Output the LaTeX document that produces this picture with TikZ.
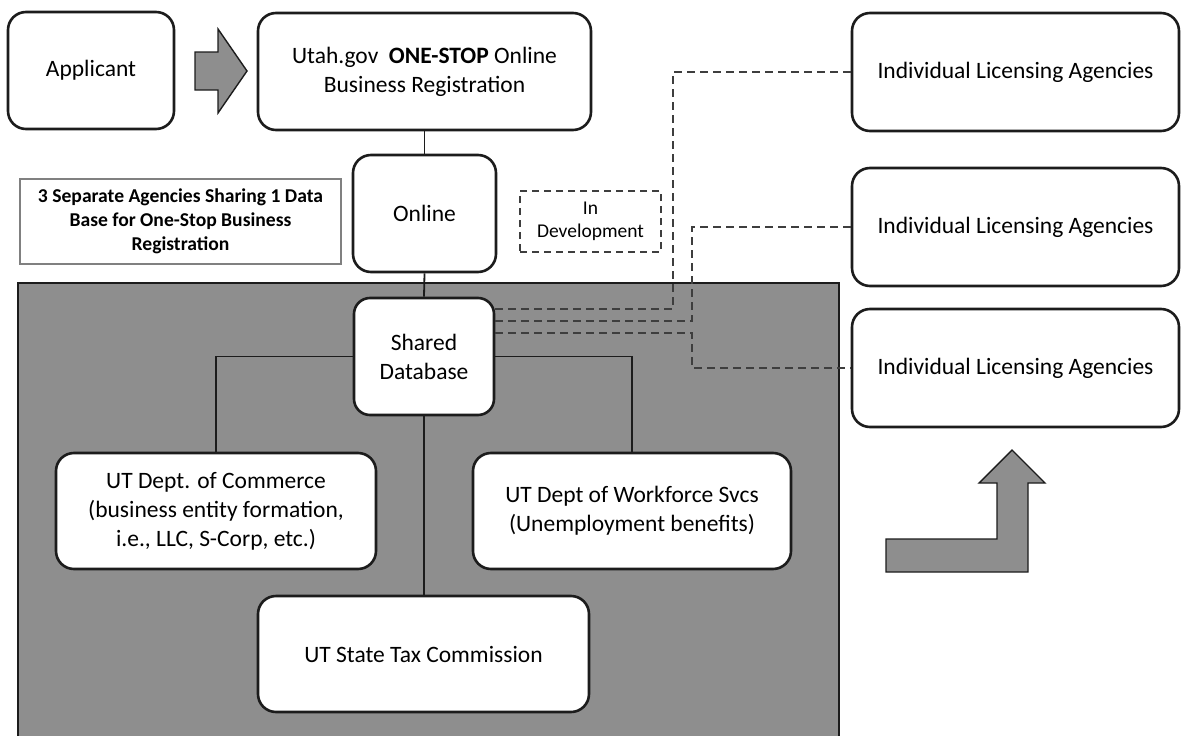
\documentclass[tikz,border=0pt]{standalone}
\usepackage{fontspec}
\setmainfont{Carlito}
\definecolor{shade}{RGB}{142,142,142}
\definecolor{frame}{RGB}{28,28,28}
\begin{document}
\begin{tikzpicture}[x=1pt,y=-1pt,
    box/.style={draw=frame,line width=2.6pt,rounded corners=18pt,fill=white,
      align=center,inner sep=0pt,font=\fontsize{23.5}{29}\selectfont},
    note/.style={draw=gray,line width=1.4pt,fill=white,align=center,inner sep=0pt,
      font=\bfseries\fontsize{19.6}{24}\selectfont},
    devbox/.style={draw=frame!85,line width=1.8pt,dash pattern=on 7pt off 5pt,
      align=center,inner sep=0pt,font=\fontsize{19.5}{23}\selectfont},
    link/.style={draw=frame,line width=1.8pt},
    dline/.style={draw=frame!85,line width=2pt,dash pattern=on 8pt off 5pt},
    blockarrow/.style={draw=frame,line width=1.4pt,fill=shade}]
  \useasboundingbox (0,0) rectangle (1181,736);
  % shaded area of the three agencies
  \draw[fill=shade,draw=frame,line width=2pt] (18,283) rectangle (839,745);

  % top row
  \node[box,minimum width=166pt,minimum height=117pt] (app) at (91,70.5) {Applicant};
  \node[box,minimum width=333pt,minimum height=117pt] (utah) at (424.5,71.5)
    {Utah.gov\ \ \textbf{ONE-STOP} Online\\Business Registration};
  \draw[blockarrow] (195,52) -- (218,52) -- (218,29) -- (247,71) -- (218,113)
    -- (218,90) -- (195,90) -- cycle;

  % middle row
  \node[box,minimum width=143pt,minimum height=117pt] (online) at (424.5,213.5) {Online};
  \node[note,minimum width=321pt,minimum height=85pt] (info) at (180.5,221.5)
    {3 Separate Agencies Sharing 1 Data\\Base for One-Stop Business\\Registration};
  \node[devbox,minimum width=141pt,minimum height=61pt] (indev) at (590.5,221.5)
    {In\\Development};

  % shared database and agencies
  \node[box,rounded corners=16pt,minimum width=140pt,minimum height=117pt] (shared) at (424,356.5)
    {Shared\\Database};
  \node[box,minimum width=320pt,minimum height=116pt] (comm) at (216,511)
    {UT Dept. of Commerce\\(business entity formation,\\i.e., LLC, S-Corp, etc.)};
  \node[box,minimum width=318pt,minimum height=116pt] (work) at (632,511)
    {UT Dept of Workforce Svcs\\(Unemployment benefits)};
  \node[box,minimum width=331pt,minimum height=116pt] (tax) at (423.5,654)
    {UT State Tax Commission};

  % licensing agencies
  \node[box,minimum width=327pt,minimum height=118pt] (ila1) at (1015.5,72) {Individual Licensing Agencies};
  \node[box,minimum width=327pt,minimum height=118pt] (ila2) at (1015.5,227) {Individual Licensing Agencies};
  \node[box,minimum width=327pt,minimum height=118pt] (ila3) at (1015.5,368) {Individual Licensing Agencies};
  \draw[blockarrow] (886,539) -- (997,539) -- (997,483) -- (979,483) -- (1012,450)
    -- (1045,483) -- (1028,483) -- (1028,572) -- (886,572) -- cycle;

  % connectors
  \draw[link] (utah.south) -- (online.north);
  \draw[link] (online.south) -- (shared.north);
  \draw[link] (shared.south) -- (shared.south |- tax.north);
  \draw[link] (shared.west) -| (comm.north);
  \draw[link] (shared.east) -| (work.north);

  % links in development
  \coordinate (d1) at (673,72);
  \coordinate (d2) at (692,227);
  \coordinate (d3) at (692,368);
  \draw[dline] ([yshift=47.5pt]shared.east) -| (d1) -- (ila1.west);
  \draw[dline] ([yshift=35.5pt]shared.east) -| (d2) -- (ila2.west);
  \draw[dline] ([yshift=23.5pt]shared.east) -| (d3) -- (ila3.west);
\end{tikzpicture}
\end{document}
